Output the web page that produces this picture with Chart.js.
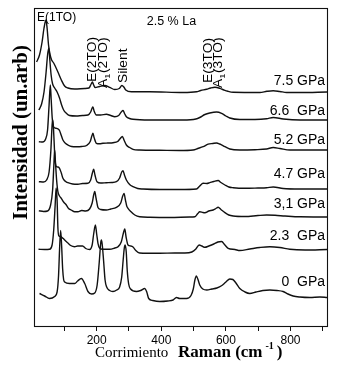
<!DOCTYPE html>
<html>
<head>
<meta charset="utf-8">
<script src="https://cdn.jsdelivr.net/npm/chart.js@4.4.1/dist/chart.umd.min.js"></script>
<style>
  html, body { margin: 0; padding: 0; background: #fff; }
  #wrap { width: 338px; height: 366px; }
</style>
</head>
<body>
<div id="wrap"><canvas id="raman" width="338" height="366"></canvas></div>
<script>
// ---------- data ----------
// each trace: [Raman shift (cm-1), intensity above its own baseline (arb.)]
const pressures = ["7.5 GPa", "6.6  GPa", "5.2 GPa", "4.7 GPa", "3,1 GPa", "2.3  GPa", "0  GPa"];
const offsets = [235, 207, 177, 138, 110, 77, 29.5];   // vertical stacking of the traces
const labelLevel = [242, 212, 183, 149, 119, 87, 41];  // where the pressure tag sits

const trace75 = [[14,30],[23,37],[31,50],[37,64],[43,72],[46.5,64],[51,47],[56,37],[60.5,32],[67,29],[73,25],[80,20],[90.6,12],[100.8,6],[111,4],[132,3],[163,3.5],[176,4],[183,8],[186.7,10],[190.7,7],[195,4.5],[209,5.5],[225,6.5],[240,4.7],[256,2.5],[270,3.5],[278,6.5],[284,5],[290,2],[307.6,0.3],[364,0.3],[467,-0.5],[509,0.2],[522,1.5],[540,2.7],[553,4],[566,4.7],[581,3.7],[594,2],[606,0.7],[622.5,-0.3],[705,-0.5],[727,0.7],[746.5,1.3],[767,0.5],[788,-0.5],[829,-0.5],[913,0]];
const trace66 = [[21,10],[29.5,16],[37,28],[43.5,48],[48,65],[52,72],[55,60],[59,45],[63.6,36],[70,32],[77.5,28],[85,22],[91.5,15],[97.7,10],[106,6.7],[116,4.5],[137,4],[156.5,4.5],[173,5],[181.4,8],[186,12],[188.5,13],[192,9],[199,5],[212.4,5],[230,5.7],[243.5,4.5],[256,3.3],[268,4.5],[276,8],[281.5,9.5],[287,6],[292,3.3],[302,1.5],[312.5,0.7],[364,0],[467,0],[507,1],[519,2.5],[535,5.5],[550,7],[571,8],[586.6,6.7],[600,4],[612,2],[643,0.5],[690,0.5],[726,1.2],[746.5,2.5],[777.5,1],[829,0],[913,0]];
const trace52 = [[21,8.3],[32.6,8],[42,11],[48,20],[52.7,45],[56.5,65],[59.3,50],[62.4,32],[66,23.5],[75,21.7],[80.6,21],[85,19.5],[90,15],[95.5,10],[104,6.5],[111,5],[122.5,3.5],[137,3.3],[153.5,3.5],[169,4.5],[180,8.5],[185.5,14.5],[188.5,16.7],[192,12.5],[199,6.7],[209,6.2],[219.5,6.7],[234,7],[250.5,7.3],[265,8.5],[273,11.5],[279.5,13.5],[284.6,10],[292,5],[302,2.5],[312.5,0.7],[333,0],[395,-0.3],[457,-0.5],[498.5,0],[513,1.5],[529.5,3.3],[545,5.8],[559.6,6.5],[571,7],[581,6],[597,3.3],[612,1],[643,0],[690,0.3],[726,1],[746.5,2.5],[767,1.5],[798,0],[913,0]];
const trace47 = [[21,7.3],[35.7,7],[45,9],[52.7,17],[58.3,39],[62,64],[64.5,69],[67.3,54],[70.7,31],[75,22.5],[80.6,22],[85,20.7],[90.6,16],[95.5,10.7],[104,7.5],[111,6.3],[125.6,5],[142,4.7],[156.5,5.5],[173,5.7],[181.4,9],[186.7,16],[190.7,19.7],[194.7,14],[201,7.3],[212.4,6],[230,6.3],[246.5,6.5],[261,7.3],[271,11],[277.5,17],[281.5,18.3],[286,14],[292,9],[302,4.5],[312.5,2.3],[327,0.5],[343.5,0],[395,-0.5],[457,-0.5],[509,0],[519,3],[529.5,5.7],[541,5.5],[550,6.3],[562.5,7.5],[576,8.5],[584.5,6.5],[597,4],[609,2],[622.5,1.3],[659,0.7],[699,1],[726,1.3],[746.5,2],[777,0.5],[829,0],[913,0]];
const trace31 = [[21,6.3],[35.7,5.5],[48,6],[57.4,12],[63.6,27],[67.5,52],[70,67],[72,57],[76,37],[80,25.3],[85,21],[90.6,18.7],[97.7,15],[106,12],[113,8.5],[121,7],[132,5.3],[142,5.3],[153.5,6.5],[166,6],[178,8],[186,14],[190.7,22],[194,25.5],[198,19],[204,9.5],[212.5,7.5],[230,7],[243.5,8],[261,9.7],[274.4,14],[280.6,21],[284.6,23.5],[289,17],[293,11],[297,8.7],[305.5,5.5],[318,2],[333,0.2],[364,-0.3],[426,-0.5],[488,0],[504,0.3],[513,3.5],[519,5.3],[529,4.5],[535,4.3],[547,6],[560.5,7],[569,8.5],[576,9.7],[584.5,7.5],[597,4.3],[609,2],[622.5,1],[659,0.5],[699,1.5],[726,2],[752,1.7],[783,1],[829,0.2],[913,0]];
const trace23 = [[20,0.7],[39,0.5],[54,0.7],[62,5],[67,20],[71.5,45],[74.5,62],[77.5,50],[80,22],[83,14],[88.4,13.5],[95.5,11.7],[104,9],[111,7],[119.5,4.5],[132,3.3],[141,4],[147,4],[156.5,4],[166,1.5],[178,0.5],[186,5],[190.7,16],[196,25],[200,16],[204,6.7],[209,2],[218.5,0.7],[240,0.7],[256,2],[266,3.3],[276,8],[282,16],[287,21],[291,13],[297,5],[305.5,4],[312.5,3],[321,-0.5],[333,-3],[358,-3.3],[395,-3.3],[441.5,-3],[473,-3],[494.5,-2],[507,1],[517,5],[525.5,4],[535,2.7],[547,4],[562.5,6],[575,8],[586.6,8.5],[597,5],[607,1.7],[628,0.5],[643,-0.5],[674,1],[705,2.5],[736,3.3],[767,2.5],[798,0.7],[845,0],[913,0.5]];
const trace0 = [[23,4],[39,1.5],[54,-1],[70,1],[77.5,5.5],[82,22],[85,47],[88.4,67],[91.5,52],[94.6,29],[97.7,18],[100.8,15.5],[116,14],[132,14],[141,16.5],[152.6,19],[163,14],[173,6],[184.5,3.5],[194,4.5],[201.5,12.5],[208,35.5],[212.5,54.5],[214.6,57.5],[217,53.5],[221.7,35.5],[226,17.5],[231,10.5],[240,7],[250.5,6],[262,7.5],[271,10.5],[277.5,20.5],[282,37.5],[285.5,49.5],[288,52.5],[291.5,45.5],[294.5,27.5],[299,13.5],[305,8.5],[323,6],[336,7],[349,9],[355,5.5],[361,-1],[373.5,-3],[395,-4],[420,-3.5],[436.5,-2.5],[447,0],[457,-1],[478,-1],[492,2],[499,8.5],[504,17.5],[508.5,21.5],[513,18.5],[519,12.5],[528.5,8.5],[541,7.5],[556.5,8.5],[572,9.5],[587.5,12],[600,15.5],[612,18.5],[621.5,18],[631,14.5],[643,9],[659,5.5],[674,4],[693,5.5],[714.5,7],[736,7.5],[758,7],[777,6],[792,3.5],[808,1.5],[829,0.5],[860,0],[891,0.5],[913,0]];

const traces = [trace75, trace66, trace52, trace47, trace31, trace23, trace0];

// x axis
const ramanTicks = [100, 200, 300, 400, 500, 600, 700, 800, 900];
const ramanTickText = ["", "200", "", "400", "", "600", "", "800", ""];

// mode assignments (rotated tags) : shift of the text baseline, level where text starts
const modeNames = ["E(2TO)", "A_1(2TO)", "Silent", "E(3TO)", "A_1(3TO)"];
const modeShift = [197, 231, 293, 556, 589];
const modeLevel = [245, 239, 244, 244, 239];

// ---------- helpers ----------
const SANS = '"Liberation Sans", Arial, sans-serif';
const SERIF = '"Liberation Serif", "Times New Roman", serif';
const INK = "#111";

function drawModeTag(ctx, name, px, py){
  ctx.save();
  ctx.translate(px, py);
  ctx.rotate(-Math.PI/2);
  ctx.scale(1.15, 1);
  ctx.textBaseline = "alphabetic";
  ctx.textAlign = "left";
  const bits = name.split("_");
  let cx = 0;
  ctx.font = "12px " + SANS;
  ctx.fillText(bits[0], cx, 0);
  cx += ctx.measureText(bits[0]).width;
  if(bits[1]){
    const sub = bits[1][0], rest = bits[1].slice(1);
    ctx.font = "8px " + SANS;
    ctx.fillText(sub, cx, 3);
    cx += ctx.measureText(sub).width + 0.5;
    ctx.font = "12px " + SANS;
    ctx.fillText(rest, cx, 0);
  }
  ctx.restore();
}

const annotate = {
  id: "annotate",
  afterDatasetsDraw(chart){
    const {ctx, chartArea: a, scales: {x, y}} = chart;
    ctx.save();
    // frame
    ctx.strokeStyle = INK;
    ctx.lineWidth = 1.1;
    ctx.strokeRect(a.left + 0.5, a.top + 0.5, a.right - a.left - 1, a.bottom - a.top - 1);

    ctx.fillStyle = "#000";
    ctx.textBaseline = "alphabetic";

    // pressure tags
    ctx.font = "14px " + SANS;
    ctx.textAlign = "right";
    pressures.forEach((p, i) => ctx.fillText(p, x.getPixelForValue(907), y.getPixelForValue(labelLevel[i])));

    // top notes
    ctx.textAlign = "left";
    ctx.font = "12px " + SANS;
    ctx.fillText("E(1TO)", x.getPixelForValue(15.5), y.getPixelForValue(306));
    ctx.font = "12.5px " + SANS;
    ctx.fillText("2.5 % La", x.getPixelForValue(355), y.getPixelForValue(302));

    modeNames.forEach((m, i) => drawModeTag(ctx, m, x.getPixelForValue(modeShift[i]), y.getPixelForValue(modeLevel[i])));

    // y title
    ctx.save();
    ctx.translate(27, 132.5);
    ctx.rotate(-Math.PI/2);
    ctx.textAlign = "center";
    ctx.font = "bold 21px " + SERIF;
    ctx.fillText("Intensidad (un.arb)", 0, 0);
    ctx.restore();

    // x title
    ctx.textAlign = "left";
    ctx.font = "15px " + SERIF;
    ctx.fillText("Corrimiento", 95, 357);
    ctx.font = "bold 17px " + SERIF;
    const head = "Raman (cm";
    ctx.fillText(head, 178, 357);
    let cx = 178 + ctx.measureText(head).width + 3;
    ctx.font = "bold 10px " + SERIF;
    ctx.fillText("-1", cx, 349);
    cx += ctx.measureText("-1").width + 3;
    ctx.font = "bold 17px " + SERIF;
    ctx.fillText(")", cx, 357);
    ctx.restore();
  }
};

// ---------- chart ----------
const datasets = traces.map((t, i) => ({
  label: pressures[i],
  data: t.map(([w, h]) => ({x: w, y: h + offsets[i]})),
  borderColor: INK,
  borderWidth: 1.4,
  pointRadius: 0,
  fill: false,
  cubicInterpolationMode: "monotone"
}));

new Chart(document.getElementById("raman"), {
  type: "line",
  data: { datasets },
  options: {
    responsive: false,
    animation: false,
    events: [],
    layout: { padding: { top: 8, right: 10, left: 0, bottom: 0 } },
    plugins: { legend: { display: false }, tooltip: { enabled: false } },
    scales: {
      x: {
        type: "linear",
        min: 6, max: 916,
        afterBuildTicks: (s) => { s.ticks = ramanTicks.map(v => ({value: v})); },
        afterFit: (s) => { s.height = 39; },
        border: { display: false },
        grid: { drawOnChartArea: false, drawTicks: true, tickLength: 4, color: INK, lineWidth: 1 },
        ticks: {
          padding: 2,
          color: "#000",
          font: { family: SANS, size: 12 },
          maxRotation: 0,
          autoSkip: false,
          callback: (v) => ramanTickText[ramanTicks.indexOf(v)] ?? ""
        }
      },
      y: {
        min: 0, max: 319,
        afterFit: (s) => { s.width = 34; },
        border: { display: false },
        grid: { display: false },
        ticks: { display: false }
      }
    }
  },
  plugins: [annotate]
});
</script>
</body>
</html>
